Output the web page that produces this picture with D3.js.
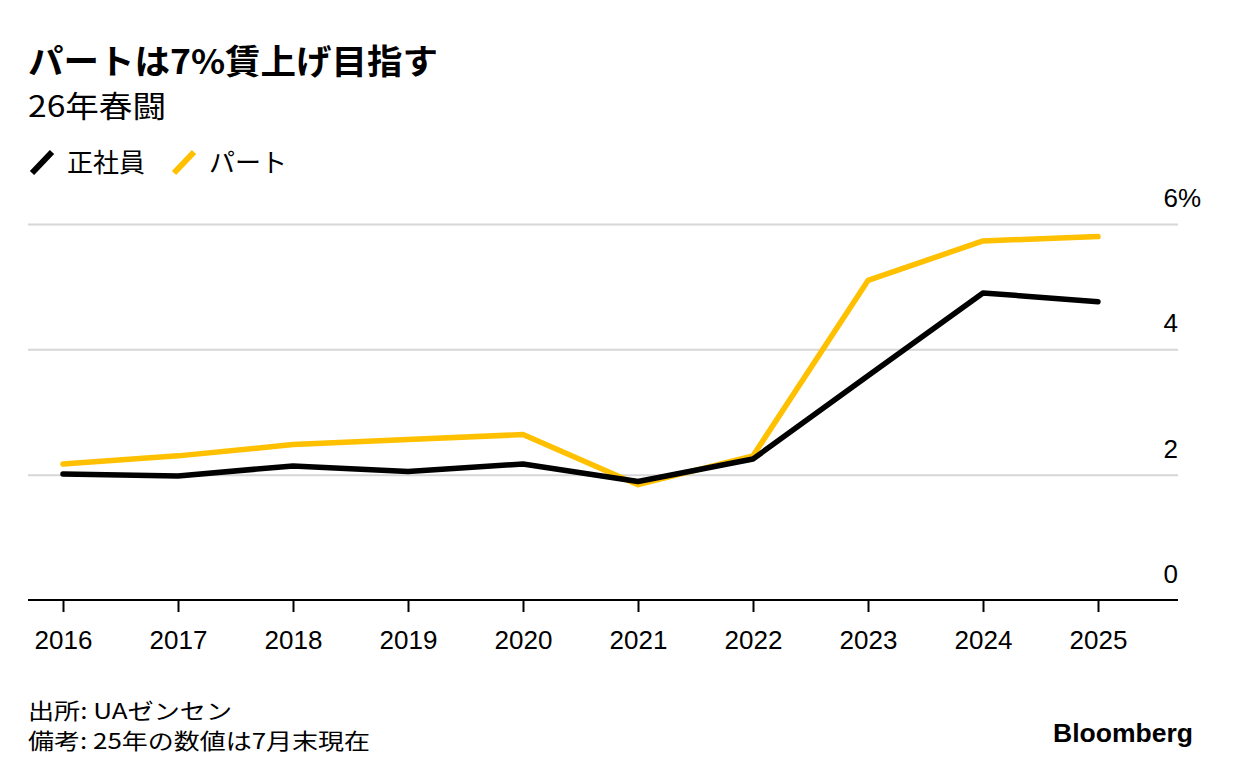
<!DOCTYPE html>
<html><head><meta charset="utf-8">
<script src="https://cdn.jsdelivr.net/npm/d3@7"></script>
<style>
body{margin:0;background:#fff;}
svg{display:block;}
text{font-family:"Liberation Sans","Noto Sans CJK JP",sans-serif;fill:#000;}
.jp{font-family:"Noto Sans CJK JP","Liberation Sans",sans-serif;}
</style></head>
<body>
<svg id="c" width="1233" height="778"></svg>
<script>
const years = [2016,2017,2018,2019,2020,2021,2022,2023,2024,2025];
const seishain = [2.01,1.98,2.14,2.05,2.17,1.89,2.25,3.58,4.90,4.76];
const part = [2.17,2.30,2.48,2.56,2.64,1.84,2.30,5.10,5.73,5.80];
const yTicks = [0,2,4,6];
const seriesNames = ["正社員","パート"];
const seriesColors = ["#000000","#FFC000"];

const svg = d3.select("#c");
const pLeft = 28, pRight = 1178, pTop = 224, pBottom = 600;
const x = d3.scalePoint().domain(years).range([63,1098]);
const y = d3.scaleLinear().domain([0,6]).range([pBottom, pTop]);

// Title
svg.append("text").attr("class","jp").attr("x",28).attr("y",74)
  .attr("font-size",34).attr("font-weight",700).attr("textLength",410)
  .attr("lengthAdjust","spacingAndGlyphs").text("パートは7%賃上げ目指す");
svg.append("text").attr("class","jp").attr("x",28).attr("y",117)
  .attr("font-size",30).attr("textLength",138)
  .attr("lengthAdjust","spacingAndGlyphs").text("26年春闘");

// Legend
const lg = svg.append("g");
[0,1].forEach(i=>{
  const ox = i===0 ? 30 : 172;
  lg.append("line").attr("x1",ox+2).attr("y1",173).attr("x2",ox+22).attr("y2",152)
    .attr("stroke",seriesColors[i]).attr("stroke-width",6).attr("stroke-linecap","butt");
  lg.append("text").attr("class","jp").attr("x",ox+37).attr("y",172)
    .attr("font-size",26).text(seriesNames[i]);
});

// Grid
const yAxis = d3.axisRight(y).tickValues(yTicks).tickSize(-(pRight-pLeft)).tickFormat("");
const gy = svg.append("g").attr("transform",`translate(${pRight},0)`).call(yAxis);
gy.select(".domain").remove();
gy.selectAll(".tick line").attr("stroke","#d6d6d6").attr("stroke-width",2);
gy.selectAll(".tick").filter(d=>d===0).remove();

// y labels
yTicks.forEach(t=>{
  svg.append("text").attr("x",pRight).attr("y",y(t)-17).attr("font-size",26)
    .attr("text-anchor","end").text(t);
  if(t===6){
    svg.append("text").attr("x",pRight).attr("y",y(t)-17).attr("font-size",26).text("%");
  }
});

// x axis
const xAxis = d3.axisBottom(x).tickSize(12).tickPadding(10).tickFormat(d=>d);
const gx = svg.append("g").attr("transform",`translate(0,${pBottom})`).call(xAxis);
gx.select(".domain").attr("d",`M${pLeft},0H${pRight}`).attr("stroke","#000").attr("stroke-width",2);
gx.selectAll(".tick line").attr("stroke","#000").attr("stroke-width",2);
gx.selectAll(".tick text").attr("font-size",26).attr("fill","#000")
  .attr("font-family","Liberation Sans, sans-serif").attr("dy","1.05em");

// Lines
const line = d3.line().x((d,i)=>x(years[i])).y(d=>y(d));
svg.append("path").datum(part).attr("d",line).attr("fill","none")
  .attr("stroke",seriesColors[1]).attr("stroke-width",5.5)
  .attr("stroke-linecap","round").attr("stroke-linejoin","round");
svg.append("path").datum(seishain).attr("d",line).attr("fill","none")
  .attr("stroke",seriesColors[0]).attr("stroke-width",5.5)
  .attr("stroke-linecap","round").attr("stroke-linejoin","round");

// Footer
svg.append("text").attr("class","jp").attr("x",28).attr("y",719).attr("font-size",22)
  .attr("textLength",204).attr("lengthAdjust","spacingAndGlyphs").text("出所: UAゼンセン");
svg.append("text").attr("class","jp").attr("x",28).attr("y",749).attr("font-size",22)
  .attr("textLength",342).attr("lengthAdjust","spacingAndGlyphs").text("備考: 25年の数値は7月末現在");
svg.append("text").attr("x",1053).attr("y",742).attr("font-size",25).attr("font-weight",700)
  .attr("textLength",140).attr("lengthAdjust","spacingAndGlyphs").text("Bloomberg");
</script>
</body></html>
